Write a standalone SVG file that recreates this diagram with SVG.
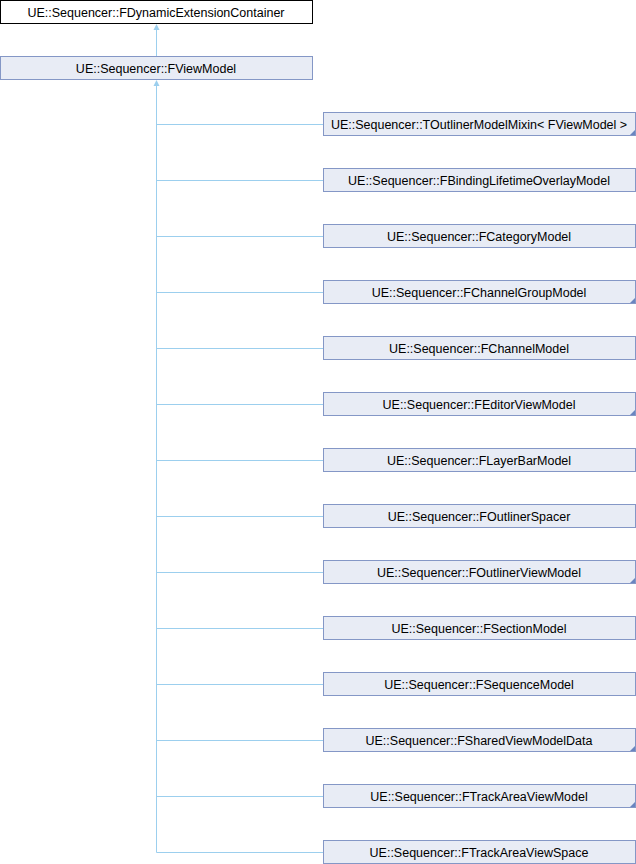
<svg xmlns="http://www.w3.org/2000/svg" width="636" height="864" viewBox="0 0 636 864">
<style>
.n rect{fill:#e8ecf5;stroke:#8497c6;stroke-width:1}
.n.top rect{fill:#fff;stroke:#000}
text{font-family:"Liberation Sans",Arial,sans-serif;font-size:12.5px;fill:#000;text-anchor:middle}
.c{stroke:#9ccfee;stroke-width:1;fill:none}
.tri{fill:#6a85c0}
.ah{fill:#9ccfee}
</style>
<rect width="636" height="864" fill="#fff"/>
<g id="connectors">
<path class="c" d="M156.5 30V56"/>
<polygon class="ah" points="156.5,24 153.5,30 159.5,30"/>
<path class="c" d="M156.5 86V852.5H323"/>
<polygon class="ah" points="156.5,80 153.5,86 159.5,86"/>
<path class="c" d="M156.5 124.5H323M156.5 180.5H323M156.5 236.5H323M156.5 292.5H323M156.5 348.5H323M156.5 404.5H323M156.5 460.5H323M156.5 516.5H323M156.5 572.5H323M156.5 628.5H323M156.5 684.5H323M156.5 740.5H323M156.5 796.5H323"/>
</g>
<g id="n0" class="n top"><rect x="0.5" y="0.5" width="312" height="23"/><text x="156" y="16.5">UE::Sequencer::FDynamicExtensionContainer</text></g>
<g id="n1" class="n"><rect x="0.5" y="56.5" width="312" height="23"/><text x="156" y="72.5">UE::Sequencer::FViewModel</text></g>
<g id="n2" class="n"><rect x="323.5" y="112.5" width="312" height="23"/><text x="479" y="128.5">UE::Sequencer::TOutlinerModelMixin&lt; FViewModel &gt;</text><polygon class="tri" points="635,130 635,135 630,135"/></g>
<g id="n3" class="n"><rect x="323.5" y="168.5" width="312" height="23"/><text x="479" y="184.5">UE::Sequencer::FBindingLifetimeOverlayModel</text></g>
<g id="n4" class="n"><rect x="323.5" y="224.5" width="312" height="23"/><text x="479" y="240.5">UE::Sequencer::FCategoryModel</text></g>
<g id="n5" class="n"><rect x="323.5" y="280.5" width="312" height="23"/><text x="479" y="296.5">UE::Sequencer::FChannelGroupModel</text><polygon class="tri" points="635,298 635,303 630,303"/></g>
<g id="n6" class="n"><rect x="323.5" y="336.5" width="312" height="23"/><text x="479" y="352.5">UE::Sequencer::FChannelModel</text></g>
<g id="n7" class="n"><rect x="323.5" y="392.5" width="312" height="23"/><text x="479" y="408.5">UE::Sequencer::FEditorViewModel</text><polygon class="tri" points="635,410 635,415 630,415"/></g>
<g id="n8" class="n"><rect x="323.5" y="448.5" width="312" height="23"/><text x="479" y="464.5">UE::Sequencer::FLayerBarModel</text></g>
<g id="n9" class="n"><rect x="323.5" y="504.5" width="312" height="23"/><text x="479" y="520.5">UE::Sequencer::FOutlinerSpacer</text></g>
<g id="n10" class="n"><rect x="323.5" y="560.5" width="312" height="23"/><text x="479" y="576.5">UE::Sequencer::FOutlinerViewModel</text><polygon class="tri" points="635,578 635,583 630,583"/></g>
<g id="n11" class="n"><rect x="323.5" y="616.5" width="312" height="23"/><text x="479" y="632.5">UE::Sequencer::FSectionModel</text></g>
<g id="n12" class="n"><rect x="323.5" y="672.5" width="312" height="23"/><text x="479" y="688.5">UE::Sequencer::FSequenceModel</text></g>
<g id="n13" class="n"><rect x="323.5" y="728.5" width="312" height="23"/><text x="479" y="744.5">UE::Sequencer::FSharedViewModelData</text><polygon class="tri" points="635,746 635,751 630,751"/></g>
<g id="n14" class="n"><rect x="323.5" y="784.5" width="312" height="23"/><text x="479" y="800.5">UE::Sequencer::FTrackAreaViewModel</text><polygon class="tri" points="635,802 635,807 630,807"/></g>
<g id="n15" class="n"><rect x="323.5" y="840.5" width="312" height="23"/><text x="479" y="856.5">UE::Sequencer::FTrackAreaViewSpace</text></g>
</svg>
